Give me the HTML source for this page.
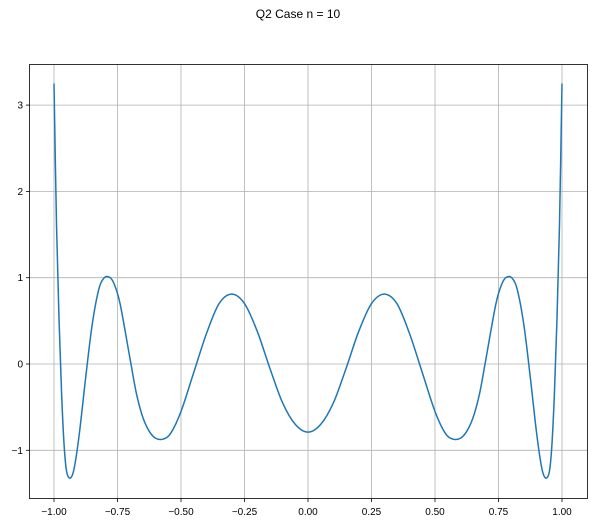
<!DOCTYPE html>
<html><head><meta charset="utf-8"><style>
body{margin:0;background:#fff;}
svg{font-family:"Liberation Sans","DejaVu Sans",sans-serif;}
</style></head><body>
<svg id="chart" width="597" height="523">
<rect width="597" height="523" fill="#fff"/>
<text x="298" y="18" text-anchor="middle" font-size="12">Q2 Case n = 10</text>
<g id="grid"></g>
<g id="ticks"></g>
<path id="line" fill="none" stroke="#1f77b4" stroke-width="1.5"/>
<rect x="29.5" y="64.5" width="558" height="434" fill="none" stroke="#000" stroke-width="0.8"/>
</svg>
<script>
const xVals=[-1,-0.99,-0.98,-0.97,-0.96,-0.95,-0.935,-0.92,-0.9,-0.875,-0.85,-0.825,-0.805,-0.785,-0.765,-0.74,-0.7,-0.675,-0.65,-0.625,-0.6,-0.57,-0.54,-0.5,-0.45,-0.4,-0.35,-0.3,-0.25,-0.2,-0.15,-0.1,-0.05,0,0.05,0.1,0.15,0.2,0.25,0.3,0.35,0.4,0.45,0.5,0.54,0.57,0.6,0.625,0.65,0.675,0.7,0.74,0.765,0.785,0.805,0.825,0.85,0.875,0.9,0.92,0.935,0.95,0.96,0.97,0.98,0.99,1];
const yVals=[3.25,1.6,0.5,-0.35,-0.95,-1.25,-1.32,-1.2,-0.8,-0.15,0.45,0.85,0.99,1.01,0.94,0.7,0.05,-0.35,-0.62,-0.78,-0.86,-0.87,-0.8,-0.55,-0.1,0.35,0.7,0.81,0.7,0.38,-0.05,-0.45,-0.7,-0.79,-0.7,-0.45,-0.05,0.38,0.7,0.81,0.7,0.35,-0.1,-0.55,-0.8,-0.87,-0.86,-0.78,-0.62,-0.35,0.05,0.7,0.94,1.01,0.99,0.85,0.45,-0.15,-0.8,-1.2,-1.32,-1.25,-0.95,-0.35,0.5,1.6,3.25];
const xTicks=[-1,-0.75,-0.5,-0.25,0,0.25,0.5,0.75,1];
const xTickLabels=["\u22121.00","\u22120.75","\u22120.50","\u22120.25","0.00","0.25","0.50","0.75","1.00"];
const yTicks=[-1,0,1,2,3];
const yTickLabels=["\u22121","0","1","2","3"];
const X=v=>308+v*254;
const Y=v=>364-v*86.3;
const NS="http://www.w3.org/2000/svg";
const grid=document.getElementById('grid'),tk=document.getElementById('ticks');
function mk(t,a,p){const e=document.createElementNS(NS,t);for(const k in a)e.setAttribute(k,a[k]);p.appendChild(e);return e;}
xTicks.forEach((v,i)=>{
 const g=mk('line',{x1:X(v),x2:X(v),y1:64.5,y2:498.5,stroke:'#b0b0b0','stroke-width':0.8},grid);
 
 
 mk('line',{x1:X(v),x2:X(v),y1:498.5,y2:502,stroke:'#000','stroke-width':0.8},tk);
 const t=mk('text',{x:X(v),y:515,'text-anchor':'middle','font-size':10},tk);
 t.textContent=xTickLabels[i];
 
 
});
yTicks.forEach((v,i)=>{
 const g=mk('line',{x1:29.5,x2:587.5,y1:Y(v),y2:Y(v),stroke:'#b0b0b0','stroke-width':0.8},grid);
 
 
 mk('line',{x1:26,x2:29.5,y1:Y(v),y2:Y(v),stroke:'#000','stroke-width':0.8},tk);
 const t=mk('text',{x:23,y:Y(v)+3.5,'text-anchor':'end','font-size':10},tk);
 t.textContent=yTickLabels[i];
 
 
});
const P=xVals.map((x,i)=>[X(x),Y(yVals[i])]);
let d='M'+P[0][0]+','+P[0][1];
for(let i=0;i<P.length-1;i++){
 const p0=P[Math.max(0,i-1)],p1=P[i],p2=P[i+1],p3=P[Math.min(P.length-1,i+2)];
 const c1=[p1[0]+(p2[0]-p0[0])/6,p1[1]+(p2[1]-p0[1])/6];
 const c2=[p2[0]-(p3[0]-p1[0])/6,p2[1]-(p3[1]-p1[1])/6];
 d+=`C${c1[0]},${c1[1]} ${c2[0]},${c2[1]} ${p2[0]},${p2[1]}`;
}
document.getElementById('line').setAttribute('d',d);
</script>
</body></html>
